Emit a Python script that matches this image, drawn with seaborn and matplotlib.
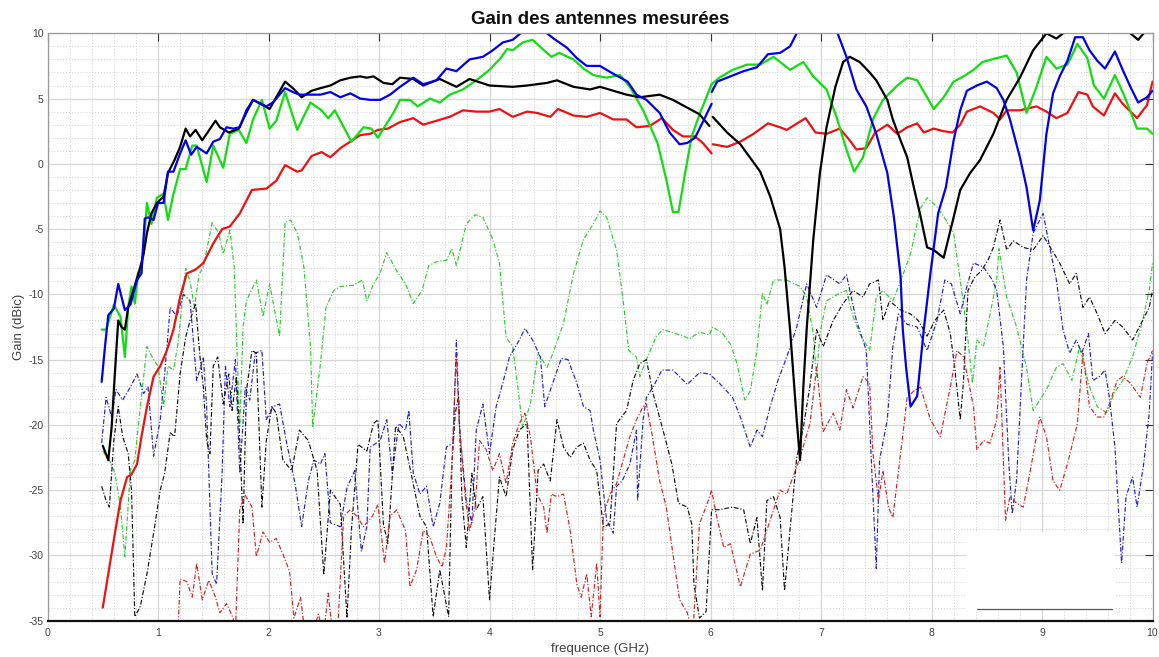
import numpy as np
import pandas as pd
import matplotlib
matplotlib.use("Agg")
import matplotlib.pyplot as plt
import seaborn as sns
from matplotlib.patches import Rectangle
from matplotlib.lines import Line2D
from matplotlib.ticker import MultipleLocator

# ---------------- data (GHz, dBic) ----------------
# solid black, low band / high band
black_lo_f = [0.50,0.55,0.58,0.61,0.64,0.67,0.70,0.73,0.84,0.87,0.90,0.94,0.99,1.05,1.09,1.15,1.20,1.25,1.29,1.34,1.40,1.44,1.52,1.56,1.64,1.73,1.81,1.86,1.95,2.01,2.07,2.15,2.22,2.30,2.39,2.47,2.56,2.65,2.74,2.83,2.89,2.95,3.04,3.12,3.19,3.31,3.40,3.55,3.70,3.82,4.00,4.21,4.34,4.52,4.61,4.76,4.91,5.00,5.12,5.24,5.36,5.54,5.66,5.79,5.90,5.99]
black_lo_g = [-21.6,-22.7,-20.2,-16.0,-12.0,-12.5,-12.7,-11.0,-7.9,-6.9,-5.3,-3.8,-3.0,-2.5,-0.7,0.3,1.3,2.7,2.1,2.6,1.8,2.3,3.3,2.8,2.4,2.7,4.1,4.9,4.5,4.2,5.1,6.3,5.8,5.1,5.6,5.8,6.0,6.4,6.6,6.7,6.6,6.7,6.2,6.1,6.6,6.5,6.0,6.5,5.9,6.5,6.0,5.9,6.0,6.2,6.4,5.9,5.7,5.9,5.6,5.3,5.1,5.3,4.9,4.3,3.8,2.9]
black_hi_f = [6.02,6.15,6.27,6.45,6.54,6.63,6.67,6.72,6.78,6.81,6.84,6.87,6.93,6.99,7.05,7.13,7.20,7.26,7.35,7.44,7.50,7.60,7.65,7.72,7.78,7.84,7.90,7.96,8.02,8.11,8.20,8.26,8.35,8.44,8.56,8.68,8.80,8.92,9.04,9.13,9.19,9.30,9.50,9.70,9.80,9.87,9.92,10.0]
black_hi_g = [3.6,2.4,1.5,-0.6,-2.5,-5.0,-7.9,-12.7,-19.6,-22.7,-17.1,-12.7,-5.8,-0.7,2.8,5.9,7.8,8.2,7.8,7.0,6.4,4.9,3.4,1.8,0.5,-1.8,-4.0,-6.4,-6.6,-7.2,-4.1,-2.0,-0.7,0.3,2.3,4.9,6.6,8.7,10.0,9.6,10.0,10.6,10.9,10.5,10.0,9.5,10.0,10.3]

# solid blue
blue_lo_f = [0.49,0.52,0.55,0.60,0.64,0.70,0.75,0.81,0.85,0.88,0.91,0.96,1.00,1.05,1.09,1.14,1.20,1.25,1.30,1.35,1.44,1.50,1.56,1.62,1.68,1.74,1.80,1.86,1.98,2.04,2.15,2.22,2.28,2.47,2.56,2.65,2.74,2.83,2.92,3.01,3.10,3.19,3.31,3.40,3.52,3.61,3.70,3.82,3.94,4.03,4.12,4.21,4.28,4.40,4.52,4.58,4.70,4.79,4.88,5.00,5.12,5.25,5.33,5.42,5.54,5.63,5.72,5.79,5.86,5.93,6.01]
blue_lo_g = [-16.7,-14.0,-11.6,-11.1,-9.2,-11.2,-10.8,-8.9,-8.4,-4.2,-4.1,-4.3,-3.0,-3.0,-0.6,-0.6,0.8,1.8,0.7,1.3,0.8,1.7,1.9,2.8,2.7,2.8,4.1,4.9,4.4,4.7,5.8,5.5,5.3,5.3,5.5,5.1,5.4,5.0,4.9,4.9,5.3,5.9,6.6,6.1,6.4,7.3,7.1,8.0,8.2,8.7,9.3,9.5,10.0,10.5,10.0,9.6,8.9,8.1,7.5,7.5,6.9,6.3,5.3,4.9,3.9,2.4,1.5,1.6,2.0,3.2,4.6]
blue_hi_f = [6.01,6.06,6.18,6.30,6.42,6.52,6.63,6.72,6.78,6.95,7.15,7.23,7.32,7.41,7.50,7.60,7.66,7.72,7.74,7.77,7.81,7.87,7.93,7.99,8.06,8.13,8.20,8.26,8.32,8.41,8.50,8.59,8.65,8.71,8.80,8.86,8.92,8.98,9.04,9.10,9.16,9.23,9.30,9.37,9.43,9.50,9.57,9.66,9.73,9.80,9.87,9.95,10.0]
blue_hi_g = [5.5,6.3,6.7,7.1,7.4,8.4,8.5,9.0,10.0,10.8,10.0,8.2,5.7,4.4,2.3,-0.7,-4.1,-8.6,-12.7,-15.6,-18.6,-17.8,-12.7,-8.4,-3.8,-1.8,1.8,4.1,5.6,6.0,6.3,5.8,4.9,3.4,0.5,-1.8,-5.1,-2.8,2.3,5.4,6.7,7.9,9.7,9.7,8.7,7.9,7.3,8.6,7.2,5.9,4.7,5.1,5.6]

# solid green
green_lo_f = [0.49,0.53,0.60,0.66,0.70,0.73,0.76,0.79,0.82,0.85,0.90,0.94,0.99,1.05,1.09,1.14,1.20,1.25,1.31,1.35,1.44,1.50,1.59,1.65,1.73,1.80,1.86,1.94,2.01,2.07,2.15,2.26,2.38,2.48,2.54,2.60,2.75,2.86,2.93,2.99,3.07,3.13,3.19,3.28,3.35,3.46,3.55,3.64,3.76,3.88,4.00,4.10,4.16,4.21,4.30,4.39,4.48,4.56,4.63,4.76,4.85,4.94,5.06,5.18,5.27,5.39,5.52,5.60,5.66,5.71,5.77,5.83,5.91,6.01]
green_lo_g = [-12.7,-12.7,-10.8,-11.7,-14.8,-11.0,-9.4,-10.7,-8.4,-8.3,-3.0,-4.6,-2.6,-2.3,-4.3,-2.3,-0.4,-0.4,1.4,1.4,-1.4,1.4,-0.3,2.3,2.6,1.6,3.4,4.9,2.7,3.3,5.5,2.6,4.7,4.1,3.5,4.1,1.7,2.8,2.7,2.0,3.1,3.9,4.9,4.9,4.4,5.0,4.7,5.3,5.7,6.4,7.2,8.1,8.8,8.7,9.3,9.5,8.8,8.2,8.5,8.0,7.3,6.8,6.6,6.8,5.9,4.1,1.6,-1.2,-3.7,-3.7,-0.7,2.1,4.0,6.1]
green_hi_f = [6.01,6.08,6.20,6.33,6.45,6.57,6.72,6.84,6.93,7.05,7.14,7.23,7.30,7.38,7.47,7.56,7.69,7.78,7.87,7.96,8.02,8.11,8.20,8.29,8.38,8.46,8.59,8.68,8.77,8.86,8.95,9.04,9.13,9.23,9.32,9.41,9.47,9.56,9.66,9.75,9.86,9.95,10.0]
green_hi_g = [6.1,6.6,7.2,7.6,7.6,8.2,7.2,7.8,6.7,5.7,3.6,1.1,-0.6,0.5,3.4,4.9,6.0,6.6,6.4,5.1,4.2,5.1,6.3,6.7,7.2,7.8,8.1,8.3,7.0,3.9,5.9,8.2,7.3,7.6,9.2,8.1,6.0,5.0,6.8,5.1,2.7,2.7,2.3]

# solid red
red_lo_f = [0.50,0.55,0.61,0.66,0.72,0.76,0.81,0.85,0.90,0.96,1.02,1.08,1.14,1.20,1.26,1.34,1.41,1.50,1.58,1.65,1.74,1.85,1.98,2.07,2.15,2.26,2.30,2.39,2.48,2.56,2.65,2.74,2.83,2.92,2.99,3.08,3.19,3.31,3.40,3.52,3.64,3.76,3.88,4.00,4.09,4.21,4.34,4.43,4.55,4.62,4.76,4.88,5.00,5.12,5.24,5.33,5.45,5.56,5.66,5.75,5.86,5.93,6.01]
red_lo_g = [-34.0,-31.4,-28.3,-25.8,-24.0,-23.8,-23.0,-20.9,-18.6,-16.3,-15.5,-14.3,-12.7,-10.2,-8.4,-8.1,-7.6,-6.1,-5.0,-4.8,-3.8,-2.0,-1.9,-1.3,-0.1,-0.6,-0.5,0.6,0.9,0.5,1.2,1.7,2.2,2.3,2.6,2.7,3.2,3.5,3.0,3.3,3.6,4.1,4.0,4.0,4.2,3.6,4.0,3.9,3.6,4.2,3.7,3.6,3.9,3.4,3.4,2.8,2.9,3.5,2.6,2.1,2.1,1.6,0.8]
red_hi_f = [6.02,6.15,6.27,6.39,6.52,6.63,6.69,6.86,6.95,7.05,7.17,7.26,7.32,7.41,7.49,7.60,7.69,7.78,7.87,7.93,8.02,8.11,8.19,8.26,8.32,8.44,8.56,8.62,8.68,8.80,8.95,9.04,9.13,9.23,9.33,9.41,9.46,9.56,9.66,9.73,9.86,9.95,10.0]
red_hi_g = [1.5,1.3,1.7,2.3,3.1,2.8,2.6,3.5,2.4,2.3,2.7,1.8,1.1,1.2,2.4,3.0,2.3,2.8,3.1,2.4,2.7,2.5,2.4,3.0,4.0,4.4,3.9,3.4,4.1,4.1,4.4,4.0,3.5,3.9,5.5,5.3,4.4,3.7,5.4,4.6,3.5,4.5,6.3]

# dash-dot green
greendd_f = [0.50,0.56,0.61,0.66,0.70,0.75,0.79,0.84,0.90,0.96,1.00,1.05,1.09,1.14,1.18,1.25,1.29,1.33,1.37,1.41,1.49,1.55,1.59,1.65,1.69,1.72,1.74,1.77,1.80,1.89,1.95,2.01,2.10,2.15,2.20,2.26,2.32,2.38,2.40,2.47,2.52,2.59,2.65,2.77,2.85,2.89,2.95,3.01,3.07,3.16,3.24,3.31,3.39,3.45,3.52,3.61,3.66,3.70,3.79,3.87,3.94,4.03,4.09,4.15,4.21,4.26,4.30,4.37,4.44,4.52,4.57,4.67,4.76,4.85,4.94,5.00,5.06,5.15,5.21,5.26,5.33,5.36,5.42,5.51,5.57,5.72,5.81,5.90,5.99,6.02,6.11,6.18,6.24,6.31,6.36,6.42,6.47,6.51,6.57,6.69,6.81,6.87,6.93,6.96,6.99,7.05,7.17,7.23,7.29,7.35,7.44,7.50,7.56,7.65,7.72,7.81,7.90,7.96,8.05,8.13,8.20,8.26,8.32,8.37,8.41,8.47,8.53,8.59,8.61,8.68,8.77,8.86,8.92,9.04,9.13,9.19,9.27,9.34,9.43,9.50,9.59,9.65,9.73,9.82,9.91,9.97,10.0]
greendd_g = [-22.0,-22.7,-23.7,-26.3,-30.1,-23.5,-22.7,-18.6,-14.0,-15.0,-15.5,-18.6,-15.5,-15.8,-13.8,-8.0,-9.0,-11.0,-8.5,-7.9,-4.5,-5.3,-6.9,-5.1,-7.9,-15.5,-20.1,-12.5,-10.5,-8.9,-11.7,-9.2,-13.2,-4.5,-4.3,-5.3,-7.9,-14.0,-20.2,-15.3,-11.0,-9.7,-9.4,-9.3,-8.9,-10.5,-9.2,-8.4,-6.8,-8.2,-9.2,-10.7,-9.7,-7.8,-7.5,-7.4,-6.5,-7.8,-4.6,-3.9,-4.1,-5.8,-7.6,-13.3,-14.0,-17.4,-20.2,-18.4,-14.5,-15.6,-14.6,-12.2,-8.4,-5.8,-4.6,-3.6,-4.1,-6.6,-10.5,-14.3,-14.8,-16.3,-15.0,-13.2,-12.7,-13.1,-13.4,-12.9,-13.1,-12.5,-13.0,-13.8,-15.3,-18.1,-17.4,-14.3,-9.9,-10.8,-8.9,-8.9,-9.4,-10.2,-13.0,-16.3,-13.0,-10.5,-9.9,-9.7,-11.7,-13.0,-14.3,-10.2,-9.7,-10.5,-9.0,-6.9,-3.4,-2.6,-3.3,-4.3,-5.3,-8.9,-12.7,-16.8,-13.5,-14.0,-11.5,-8.9,-6.5,-10.2,-12.5,-15.6,-18.9,-17.3,-15.6,-15.3,-16.6,-14.0,-17.1,-18.6,-19.1,-17.6,-16.6,-14.8,-12.0,-9.7,-7.6]

# dash-dot blue
bluedd_f = [0.49,0.53,0.58,0.62,0.68,0.75,0.81,0.87,0.91,0.96,1.02,1.06,1.11,1.17,1.23,1.29,1.35,1.41,1.44,1.49,1.53,1.58,1.61,1.65,1.70,1.74,1.79,1.83,1.88,1.94,1.98,2.04,2.10,2.16,2.24,2.30,2.36,2.41,2.47,2.51,2.56,2.65,2.71,2.78,2.84,2.89,2.92,3.01,3.07,3.12,3.18,3.24,3.27,3.31,3.37,3.43,3.49,3.55,3.61,3.67,3.70,3.73,3.79,3.84,3.88,3.94,4.00,4.06,4.12,4.18,4.27,4.32,4.39,4.46,4.50,4.58,4.65,4.71,4.79,4.85,4.91,4.94,5.00,5.06,5.12,5.15,5.20,5.27,5.33,5.34,5.39,5.42,5.48,5.56,5.66,5.79,5.90,5.99,6.08,6.20,6.27,6.36,6.42,6.47,6.54,6.61,6.69,6.78,6.87,6.96,7.05,7.17,7.23,7.32,7.41,7.46,7.50,7.53,7.60,7.65,7.70,7.78,7.87,7.96,8.05,8.12,8.18,8.26,8.32,8.38,8.47,8.55,8.59,8.65,8.70,8.73,8.77,8.83,8.86,8.92,9.01,9.07,9.13,9.19,9.25,9.31,9.36,9.42,9.46,9.52,9.57,9.61,9.66,9.72,9.76,9.82,9.86,9.92,9.97,10.0]
bluedd_g = [-21.4,-17.9,-19.4,-17.3,-18.1,-17.1,-16.1,-17.6,-17.1,-22.4,-19.6,-16.1,-11.0,-11.7,-10.0,-10.5,-16.6,-14.8,-18.6,-31.4,-32.2,-23.7,-15.5,-18.6,-15.0,-23.7,-17.1,-18.1,-14.5,-14.3,-19.6,-18.6,-18.4,-21.2,-24.5,-27.8,-24.3,-22.7,-23.0,-22.2,-27.5,-27.8,-24.8,-23.5,-29.7,-27.8,-21.7,-21.2,-19.6,-23.7,-19.9,-20.4,-18.9,-23.7,-25.3,-24.7,-27.8,-26.0,-21.7,-21.4,-13.5,-20.4,-25.8,-27.5,-20.4,-18.4,-22.2,-18.6,-16.8,-14.8,-13.5,-12.6,-13.5,-14.8,-18.6,-16.6,-14.9,-15.0,-16.8,-18.6,-18.9,-20.4,-22.7,-27.3,-28.3,-24.7,-24.3,-23.0,-20.4,-25.8,-19.6,-17.9,-17.1,-15.8,-15.8,-16.9,-16.0,-16.1,-16.8,-17.9,-19.4,-21.7,-20.4,-20.9,-18.6,-16.6,-14.8,-12.5,-9.2,-11.0,-8.5,-9.2,-8.5,-12.0,-14.3,-23.5,-31.0,-22.7,-19.6,-14.0,-11.5,-12.3,-12.5,-14.3,-12.0,-8.9,-9.2,-11.5,-9.4,-7.6,-7.9,-8.9,-9.7,-14.0,-23.0,-26.8,-24.2,-14.0,-8.9,-5.3,-3.8,-6.4,-8.9,-12.7,-14.5,-13.5,-14.5,-13.0,-16.6,-16.3,-15.8,-17.9,-21.7,-30.6,-25.5,-24.0,-26.3,-23.0,-19.1,-14.5]

# dash-dot black
blackdd_f = [0.49,0.53,0.56,0.60,0.64,0.68,0.73,0.76,0.79,0.84,0.90,0.96,1.02,1.06,1.11,1.15,1.20,1.25,1.29,1.34,1.38,1.41,1.44,1.47,1.50,1.54,1.59,1.64,1.67,1.71,1.74,1.77,1.80,1.85,1.89,1.94,1.98,2.03,2.07,2.13,2.21,2.28,2.36,2.44,2.50,2.56,2.65,2.71,2.75,2.81,2.89,2.95,2.99,3.04,3.08,3.15,3.22,3.29,3.37,3.43,3.49,3.55,3.63,3.66,3.69,3.72,3.75,3.79,3.84,3.88,3.94,4.00,4.05,4.09,4.15,4.21,4.27,4.34,4.39,4.44,4.49,4.55,4.61,4.67,4.73,4.79,4.85,4.91,4.97,5.03,5.09,5.15,5.24,5.30,5.36,5.42,5.48,5.57,5.65,5.71,5.79,5.83,5.85,5.90,5.96,6.01,6.08,6.20,6.30,6.36,6.42,6.47,6.51,6.57,6.63,6.67,6.72,6.78,6.84,6.90,6.96,7.02,7.11,7.20,7.29,7.38,7.44,7.52,7.56,7.62,7.72,7.81,7.88,7.96,8.03,8.11,8.17,8.21,8.26,8.29,8.33,8.39,8.45,8.51,8.56,8.62,8.68,8.74,8.83,8.92,9.01,9.09,9.16,9.25,9.31,9.37,9.43,9.50,9.57,9.66,9.73,9.82,9.91,9.97,10.0]
blackdd_g = [-24.7,-25.8,-26.3,-21.2,-18.6,-20.9,-22.2,-25.0,-34.7,-33.9,-31.4,-28.3,-25.0,-23.7,-20.6,-20.9,-16.1,-13.3,-12.0,-10.7,-14.8,-17.1,-21.2,-22.2,-15.5,-14.8,-18.4,-16.1,-18.9,-16.3,-21.2,-27.6,-17.4,-14.3,-14.5,-26.3,-21.2,-18.6,-19.1,-22.7,-23.5,-20.4,-21.2,-23.5,-31.5,-25.0,-26.1,-34.8,-28.1,-21.5,-22.0,-19.9,-19.6,-27.6,-29.1,-20.1,-20.9,-23.7,-27.0,-27.8,-34.7,-31.1,-34.7,-23.0,-19.1,-17.8,-25.5,-29.4,-23.7,-26.5,-25.5,-33.4,-28.1,-24.0,-25.5,-21.9,-20.4,-19.9,-31.1,-23.5,-23.0,-24.3,-19.6,-21.7,-22.5,-21.7,-21.4,-22.7,-23.5,-27.8,-27.6,-19.9,-18.9,-16.6,-15.3,-15.0,-17.6,-20.4,-23.0,-26.0,-26.3,-27.6,-32.2,-34.8,-34.3,-26.5,-26.5,-26.3,-26.5,-29.1,-27.1,-32.7,-25.8,-25.5,-27.1,-32.7,-28.0,-22.5,-20.2,-17.0,-12.7,-14.0,-12.0,-10.7,-9.7,-10.2,-9.2,-8.9,-12.0,-10.5,-11.2,-11.5,-12.0,-13.2,-12.0,-11.2,-13.0,-15.6,-19.6,-16.6,-9.7,-8.7,-8.2,-7.4,-6.4,-4.3,-6.6,-5.9,-6.4,-6.6,-5.5,-6.6,-7.6,-9.2,-8.4,-11.0,-10.2,-11.5,-13.0,-12.0,-12.5,-13.5,-12.0,-11.0,-9.7]

# dash-dot red
reddd_f = [1.18,1.20,1.26,1.31,1.35,1.40,1.46,1.52,1.56,1.62,1.68,1.70,1.74,1.79,1.85,1.89,1.95,2.01,2.07,2.13,2.19,2.23,2.29,2.33,2.40,2.45,2.50,2.54,2.58,2.63,2.68,2.74,2.80,2.86,2.94,2.99,3.05,3.10,3.16,3.24,3.28,3.34,3.40,3.46,3.52,3.57,3.61,3.66,3.69,3.70,3.73,3.78,3.82,3.87,3.91,3.97,4.03,4.09,4.15,4.21,4.27,4.32,4.37,4.43,4.49,4.52,4.56,4.61,4.67,4.73,4.79,4.83,4.88,4.92,4.97,5.00,5.03,5.09,5.15,5.21,5.27,5.33,5.39,5.42,5.47,5.54,5.60,5.66,5.72,5.79,5.84,5.90,5.98,6.01,6.05,6.12,6.18,6.27,6.36,6.45,6.54,6.63,6.69,6.81,6.90,6.96,7.02,7.11,7.17,7.23,7.29,7.38,7.44,7.47,7.52,7.56,7.61,7.65,7.72,7.78,7.84,7.90,7.99,8.08,8.17,8.23,8.29,8.38,8.41,8.47,8.53,8.59,8.62,8.67,8.71,8.77,8.83,8.89,8.98,9.04,9.10,9.16,9.23,9.32,9.37,9.43,9.50,9.56,9.61,9.68,9.73,9.80,9.89,9.95,10.0]
reddd_g = [-36.0,-31.8,-32.0,-33.2,-30.6,-33.4,-31.9,-33.2,-34.4,-33.7,-34.8,-36.0,-26.4,-25.4,-26.3,-30.1,-28.2,-29.0,-28.7,-29.9,-31.2,-34.8,-33.2,-36.0,-36.0,-34.5,-36.0,-32.9,-36.0,-35.0,-27.0,-26.5,-27.0,-27.8,-27.0,-26.1,-30.6,-27.0,-26.5,-28.1,-32.4,-31.1,-28.1,-28.6,-30.1,-30.9,-29.4,-23.0,-16.6,-14.8,-20.4,-25.5,-28.1,-26.3,-21.2,-21.9,-23.5,-22.2,-24.5,-21.4,-19.9,-19.1,-20.9,-25.3,-26.3,-28.3,-25.3,-25.5,-25.3,-28.1,-32.2,-33.2,-31.4,-34.7,-30.6,-34.7,-27.0,-25.3,-24.5,-22.7,-20.9,-19.6,-18.6,-18.4,-20.7,-24.3,-26.3,-29.9,-33.4,-34.4,-36.0,-27.6,-25.8,-25.0,-26.8,-29.4,-29.1,-32.4,-29.9,-29.6,-27.3,-25.0,-25.3,-22.5,-19.9,-15.6,-20.5,-19.1,-20.4,-17.3,-18.7,-16.3,-16.8,-22.2,-25.8,-23.5,-26.3,-27.1,-22.2,-17.9,-17.4,-17.1,-19.6,-20.9,-17.1,-14.3,-14.8,-18.6,-21.9,-21.2,-21.4,-19.6,-15.6,-27.3,-25.5,-26.0,-26.3,-23.7,-19.4,-20.9,-24.3,-25.0,-23.0,-19.9,-14.5,-18.6,-19.4,-19.4,-18.4,-16.6,-16.3,-16.8,-17.9,-15.3,-14.3]

title_text = "Gain des antennes mesurées"
x_label = "frequence (GHz)"
y_label = "Gain (dBic)"
x_ticks = list(range(0, 11))
y_ticks = list(range(-35, 11, 5))

# ---------------- style ----------------
sns.set_style("white")
plt.rcParams['font.family'] = ['Liberation Sans', 'DejaVu Sans']
plt.rcParams['axes.unicode_minus'] = False

fig = plt.figure(figsize=(11.59, 6.57), dpi=100)
ax = fig.add_axes([0.041, 0.0553, 0.9534, 0.894])

DASHDOT = (0, (4.0, 1.6, 1.0, 1.6))

def frame(segments):
    parts = []
    for i, (f, g) in enumerate(segments):
        parts.append(pd.DataFrame({"freq": f, "gain": g, "band": i}))
    return pd.concat(parts, ignore_index=True)

series = [
    ([(greendd_f, greendd_g)], "#2ccc2c", 0.85, DASHDOT),
    ([(bluedd_f, bluedd_g)], "#1f1fd8", 0.85, DASHDOT),
    ([(blackdd_f, blackdd_g)], "#111111", 0.85, DASHDOT),
    ([(reddd_f, reddd_g)], "#d42222", 0.85, DASHDOT),
    ([(red_lo_f, red_lo_g), (red_hi_f, red_hi_g)], "#ee1111", 1.6, "-"),
    ([(green_lo_f, green_lo_g), (green_hi_f, green_hi_g)], "#11dd11", 1.6, "-"),
    ([(black_lo_f, black_lo_g), (black_hi_f, black_hi_g)], "#000000", 1.6, "-"),
    ([(blue_lo_f, blue_lo_g), (blue_hi_f, blue_hi_g)], "#0000ee", 1.6, "-"),
]

for segs, col, lw, ls in series:
    df = frame(segs)
    sns.lineplot(data=df, x="freq", y="gain", units="band", estimator=None,
                 color=col, linewidth=lw, linestyle=ls, ax=ax, legend=False)

ax.set_xlim(0, 10)
ax.set_ylim(-35, 10)
ax.set_xticks(x_ticks)
ax.set_yticks(y_ticks)
ax.xaxis.set_minor_locator(MultipleLocator(0.2))
ax.yaxis.set_minor_locator(MultipleLocator(1))
ax.set_axisbelow(True)
ax.grid(which="major", color="#d6d6d6", linewidth=0.9, linestyle="-")
ax.grid(which="minor", color="#d0d0d0", linewidth=0.7, linestyle=(0, (1, 2)))
ax.tick_params(which="major", direction="in", length=6, width=0.8,
               top=True, right=True, labelsize=7.5, labelcolor="#404040",
               color="#333333")
ax.tick_params(axis="x", which="major", pad=5)
ax.tick_params(axis="y", which="major", pad=3)
ax.tick_params(which="minor", length=0)

for side in ["left", "top", "right"]:
    ax.spines[side].set_color("#9a9a9a")
    ax.spines[side].set_linewidth(0.9)
ax.spines["bottom"].set_color("#111111")
ax.spines["bottom"].set_linewidth(1.6)

ax.set_title(title_text, fontsize=13.5, fontweight="bold", color="#111111", pad=7)
ax.set_xlabel(x_label, fontsize=9.5, color="#404040", labelpad=4)
ax.set_ylabel(y_label, fontsize=9.5, color="#404040", labelpad=2)

# empty legend box (white) in lower right, drawn above the whole axes content
box = Rectangle((0.832, 0.018), 0.134, 0.133, transform=ax.transAxes,
                facecolor="white", edgecolor="none", zorder=3)
fig.add_artist(box)
fig.add_artist(Line2D([0.841, 0.963], [0.020, 0.020], transform=ax.transAxes,
                      color="#555555", linewidth=0.9, zorder=4))

fig.savefig("out.png", dpi=100)
